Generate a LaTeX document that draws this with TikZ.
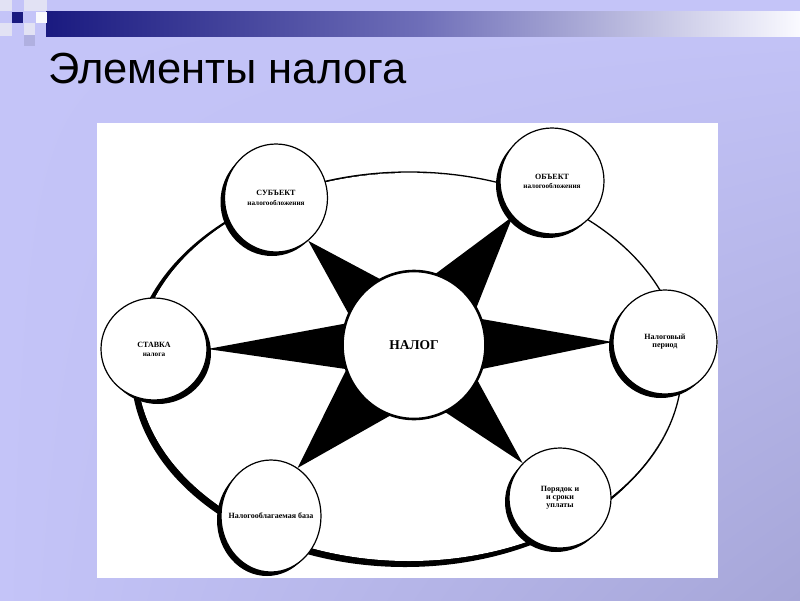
\documentclass[tikz,border=0pt]{standalone}
\usepackage{fontspec}
\setmainfont{Liberation Serif}
\newfontfamily\titlefont{Liberation Sans}
\usetikzlibrary{shapes.geometric,calc,shadings}
\pgfdeclarelayer{back}
\pgfdeclarelayer{mid}
\pgfsetlayers{back,mid,main}
\definecolor{bgA}{RGB}{196,196,248}
\definecolor{bgB}{RGB}{166,166,216}
\definecolor{navy}{RGB}{26,26,128}
\definecolor{barmid}{RGB}{110,110,184}
\definecolor{barend}{RGB}{250,250,255}
\definecolor{sqlight}{RGB}{226,226,244}
\definecolor{sqmid}{RGB}{176,176,224}
\tikzset{
  bub/.style={ellipse,draw=black,line width=1.2pt,fill=white,inner sep=0pt,align=center,
    font=\bfseries\fontsize{8}{10}\selectfont},
  bubsh/.style={ellipse,fill=black,inner sep=0pt},
  ray/.style={fill=black}
}
\newcommand{\bubble}[8]{%
  \node[bubsh,minimum width=#4pt,minimum height=#5pt] (#1-sh) at (#2+#6,#3+#7) {};
  \node[bub,minimum width=#4pt,minimum height=#5pt] (#1) at (#2,#3) {#8};
}
\newcommand{\ray}[3]{%
  \fill[ray] ($(nalog.center)!#3pt!90:(#1.#2)$) -- (#1.#2) -- ($(nalog.center)!#3pt!-90:(#1.#2)$) -- cycle;
}
\newcommand{\subline}{\fontsize{7.2}{8}\selectfont}
\begin{document}
\begin{tikzpicture}[x=1pt,y=-1pt]
\useasboundingbox (0,0) rectangle (800,600);
\begin{pgfonlayer}{back}
% background
\shade[upper left=bgA,upper right=bgA,lower left=bgA,lower right=bgB] (0,0) rectangle (800,600);
% top bar
\shade[left color=navy,right color=barmid] (46,11) rectangle (420,36);
\shade[left color=barmid,right color=barend] (420,11) rectangle (800,36);
% squares
\fill[sqlight] (0,0) rectangle (12,11);
\fill[sqlight] (24,0) rectangle (47,11);
\fill[navy] (12,12) rectangle (23,23);
\fill[white!80!sqlight] (36,12) rectangle (47,23);
\fill[sqlight] (0,23) rectangle (12,36);
\fill[sqlight] (24,23) rectangle (35,35);
\fill[sqmid] (24,35) rectangle (35,46);
% white panel
\fill[white] (97,123) rectangle (718,578);
% ring
\fill[black] (405,370) ellipse [x radius=274, y radius=197];
\fill[white] (409,367) ellipse [x radius=272, y radius=194];
\draw[line width=1.3pt] (409,367) ellipse [x radius=273, y radius=195];
\end{pgfonlayer}
% title
\node[anchor=base west,inner sep=0pt,font=\titlefont\fontsize{43.5}{50}\selectfont] (title) at (48,83) {Элементы налога};
% bubbles
\bubble{subj}{276}{198}{103}{108}{-4}{4}{СУБЪЕКТ\\[0pt]{\subline налогообложения}}
\bubble{obj}{552}{181}{104}{106}{-4}{4}{ОБЪЕКТ\\[-1pt]{\subline налогообложения}}
\bubble{stavka}{154}{349}{106}{102}{4}{4}{СТАВКА\\[-1pt]{\subline налога}}
\bubble{period}{665}{342}{104}{104}{-4}{4}{Налоговый\\[-2pt]период}
\bubble{baza}{271}{516}{100}{112}{-4}{4}{\makebox[0pt]{Налогооблагаемая база}}
\bubble{por}{560}{498}{102}{100}{-4}{4}{Порядок и\\[-2pt]и сроки\\[-2pt]уплаты}
\node[bub,line width=2.6pt,minimum width=143pt,minimum height=148pt,font=\bfseries\fontsize{13.5}{15}\selectfont] (nalog) at (414,345) {НАЛОГ};
% rays
\begin{pgfonlayer}{mid}
\ray{subj}{-53}{44}
\ray{obj}{-138}{46}
\ray{stavka}{0}{34}
\ray{period}{180}{38}
\ray{por}{137}{40}
\ray{baza}{61}{52}
\end{pgfonlayer}
\end{tikzpicture}
\end{document}
